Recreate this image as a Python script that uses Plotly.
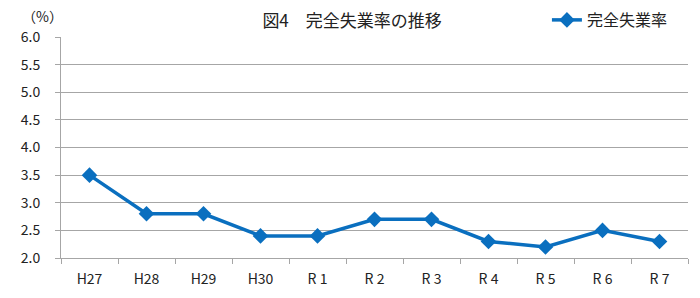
import plotly.graph_objects as go

categories = ["H27", "H28", "H29", "H30", "R 1", "R 2", "R 3", "R 4", "R 5", "R 6", "R 7"]
rates = [3.5, 2.8, 2.8, 2.4, 2.4, 2.7, 2.7, 2.3, 2.2, 2.5, 2.3]
y_ticks = [2.0, 2.5, 3.0, 3.5, 4.0, 4.5, 5.0, 5.5, 6.0]
y_labels = [f"{v:.1f}" for v in y_ticks]

FONT = "Noto Sans CJK JP, Noto Sans, sans-serif"
BLUE = "#0A6FBF"

fig = go.Figure()
fig.add_trace(go.Scatter(
    x=categories, y=rates, mode="lines+markers", name="完全失業率",
    line=dict(color=BLUE, width=3.5),
    marker=dict(symbol="diamond", size=12, color=BLUE),
))

fig.update_layout(
    width=700, height=298,
    margin=dict(l=61, r=12, t=37, b=40, autoexpand=False),
    paper_bgcolor="white", plot_bgcolor="white",
    font=dict(family=FONT, size=14, color="#222"),
    title=dict(text="図4　完全失業率の推移", x=0.503, xanchor="center", y=0.93, yanchor="middle",
               font=dict(family=FONT, size=17, color="#222")),
    showlegend=True,
    legend=dict(x=0.775, y=1.077, xanchor="left", yanchor="middle", orientation="h",
                bgcolor="rgba(0,0,0,0)", font=dict(family=FONT, size=16, color="#222"),
                itemwidth=30),
    xaxis=dict(type="category", showgrid=False, showline=True, linecolor="#A6A6A6", linewidth=1,
               ticks="outside", tickson="boundaries", ticklen=5, tickcolor="#A6A6A6",
               ticklabelstandoff=8,
               tickfont=dict(family=FONT, size=14), range=[-0.5, 10.5]),
    yaxis=dict(range=[2.0, 6.0], tickvals=y_ticks, ticktext=y_labels, showgrid=True,
               gridcolor="#A6A6A6", gridwidth=1, showline=True, linecolor="#A6A6A6",
               ticks="outside", ticklen=5, tickcolor="#A6A6A6", zeroline=False,
               ticklabelstandoff=12,
               tickfont=dict(family=FONT, size=14)),
    annotations=[dict(text="（%）", xref="paper", yref="paper", x=-0.065, y=1.095,
                      xanchor="left", yanchor="middle", showarrow=False,
                      font=dict(family="Noto Sans CJK JP", size=14, color="#222"))],
)

fig.write_html("out.html")
